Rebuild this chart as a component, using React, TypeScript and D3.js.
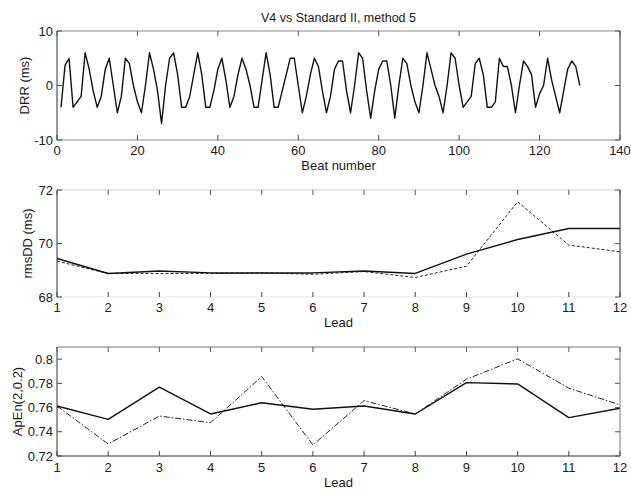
import React from "react";
import * as d3 from "d3";

const titleText = "V4 vs Standard II, method 5";

const beatValues: number[] = [
  -4, 3.7, 5, -4, -3, -2, 6, 3, -1, -4,
  -2, 3, 5, 0, -5, -2, 5, 4, 0, -3,
  -5, 0, 6, 3, -1, -7, 0, 5, 6, 2,
  -4, -4, -2, 2, 6, 2, -4, -4, -1, 3,
  5, 1, -4, -2, 2, 5, 3, 0, -4, -4,
  1, 6, 2, -4, -4, -1, 2, 5, 5, 0,
  -5, -2, 2, 5, 3.5, -1, -5, -2, 3, 4.5,
  4.5, -1, -5, 0, 6, 5, -1, -6, -1, 3,
  4.5, 4.5, 0, -6, 0, 5, 4, 0, -3, -5,
  0, 6, 3, 0, -2, -5, 0, 6, 5, 0,
  -4, -3, -2, 4, 5, 2, -4, -4, -3, 5,
  3.5, 3.5, 0, -5, 0, 4.5, 3.5, 2, -4, -1.5,
  0, 5, 1, -2, -5, -1, 3, 4.5, 3.5, 0,
];
const beatTicks = [0, 20, 40, 60, 80, 100, 120, 140];
const drrTicks = [-10, 0, 10];

const leads = [1, 2, 3, 4, 5, 6, 7, 8, 9, 10, 11, 12];
const rmsSolid = [69.44, 68.88, 68.97, 68.9, 68.9, 68.9, 68.97, 68.88, 69.6, 70.15, 70.56, 70.56];
const rmsDashed = [69.34, 68.88, 68.88, 68.88, 68.9, 68.85, 68.95, 68.73, 69.15, 71.56, 69.94, 69.69];
const rmsTicks = [68, 70, 72];

const apSolid = [0.7613, 0.7503, 0.7768, 0.7547, 0.764, 0.7586, 0.7613, 0.7547, 0.7806, 0.7795, 0.7517, 0.7594];
const apDashDot = [0.7613, 0.7299, 0.753, 0.7475, 0.7856, 0.7291, 0.7657, 0.7547, 0.7834, 0.8002, 0.776, 0.7622];
const apTicks = [0.72, 0.74, 0.76, 0.78, 0.8];

const FONT = "'Liberation Sans', Arial, Helvetica, sans-serif";
const TXT = "#1a1a1a";

type Series = { x: number[]; y: number[]; dash?: string; width: number; color: string };

type PanelProps = {
  top: number;
  bottom: number;
  left: number;
  right: number;
  xDomain: [number, number];
  yDomain: [number, number];
  xTicks: number[];
  yTicks: number[];
  yFormat: (v: number) => string;
  series: Series[];
  xLabel?: string;
  yLabel: string;
  yLabelX: number;
  xLabelY: number;
  xTickY: number;
  borders: { top: string; right: string; bottom: string; left: string };
};

function Panel(p: PanelProps) {
  const x = d3.scaleLinear().domain(p.xDomain).range([p.left, p.right]);
  const y = d3.scaleLinear().domain(p.yDomain).range([p.bottom, p.top]);
  const tl = 5;
  const line = d3
    .line<[number, number]>()
    .x((d) => x(d[0]))
    .y((d) => y(d[1]));
  const cx = (p.left + p.right) / 2;
  const cy = (p.top + p.bottom) / 2;
  return (
    <g>
      <rect x={p.left} y={p.top} width={p.right - p.left} height={p.bottom - p.top} fill="#fff" />
      {p.series.map((s, i) => (
        <path
          key={i}
          d={line(s.x.map((xv, j) => [xv, s.y[j]] as [number, number])) || ""}
          fill="none"
          stroke={s.color}
          strokeWidth={s.width}
          strokeDasharray={s.dash}
          strokeLinejoin="round"
        />
      ))}
      <line x1={p.left} x2={p.right} y1={p.top} y2={p.top} stroke={p.borders.top} />
      <line x1={p.left} x2={p.right} y1={p.bottom} y2={p.bottom} stroke={p.borders.bottom} />
      <line x1={p.left} x2={p.left} y1={p.top} y2={p.bottom} stroke={p.borders.left} />
      <line x1={p.right} x2={p.right} y1={p.top} y2={p.bottom} stroke={p.borders.right} />
      {p.xTicks.map((t) => (
        <g key={"xt" + t}>
          <line x1={x(t)} x2={x(t)} y1={p.bottom} y2={p.bottom - tl} stroke="#444" />
          <line x1={x(t)} x2={x(t)} y1={p.top} y2={p.top + tl} stroke="#555" />
          <text x={x(t)} y={p.xTickY} textAnchor="middle" dominantBaseline="central" fontSize={13} fontFamily={FONT} fill={TXT}>
            {t}
          </text>
        </g>
      ))}
      {p.yTicks.map((t) => (
        <g key={"yt" + t}>
          <line x1={p.left} x2={p.left + tl} y1={y(t)} y2={y(t)} stroke="#444" />
          <line x1={p.right} x2={p.right - tl} y1={y(t)} y2={y(t)} stroke="#555" />
          <text x={p.left - 4} y={y(t)} textAnchor="end" dominantBaseline="central" fontSize={13} fontFamily={FONT} fill={TXT}>
            {p.yFormat(t)}
          </text>
        </g>
      ))}
      {p.xLabel && (
        <text x={cx} y={p.xLabelY} textAnchor="middle" dominantBaseline="central" fontSize={13} fontFamily={FONT} fill={TXT}>
          {p.xLabel}
        </text>
      )}
      <text
        transform={`translate(${p.yLabelX},${cy}) rotate(-90)`}
        textAnchor="middle"
        dominantBaseline="central"
        fontSize={13}
        fontFamily={FONT}
        fill={TXT}
      >
        {p.yLabel}
      </text>
    </g>
  );
}

export default function App() {
  const beats = beatValues.map((_, i) => i + 1);
  const L = 57;
  const R = 620;
  return (
    <svg width={631} height={489} style={{ position: "absolute", left: 0, top: 0, background: "#fff" }}>
      <rect x={0} y={0} width={631} height={489} fill="#fff" />
      <text x={(L + R) / 2} y={18} textAnchor="middle" dominantBaseline="central" fontSize={12.5} fontFamily={FONT} fill={TXT}>
        {titleText}
      </text>
      <Panel
        top={31}
        bottom={140}
        left={L}
        right={R}
        xDomain={[0, 140]}
        yDomain={[-10, 10]}
        xTicks={beatTicks}
        yTicks={drrTicks}
        yFormat={(v) => String(v)}
        series={[{ x: beats, y: beatValues, width: 1.4, color: "#111" }]}
        xLabel="Beat number"
        yLabel="DRR (ms)"
        yLabelX={24}
        xLabelY={165}
        xTickY={150}
        borders={{ top: "#888", right: "#333", bottom: "#888", left: "#333" }}
      />
      <Panel
        top={190}
        bottom={297}
        left={L}
        right={R}
        xDomain={[1, 12]}
        yDomain={[68, 72]}
        xTicks={leads}
        yTicks={rmsTicks}
        yFormat={(v) => String(v)}
        series={[
          { x: leads, y: rmsDashed, width: 1, color: "#222", dash: "3,2" },
          { x: leads, y: rmsSolid, width: 1.4, color: "#111" },
        ]}
        xLabel="Lead"
        yLabel="rmsDD (ms)"
        yLabelX={27}
        xLabelY={322}
        xTickY={307}
        borders={{ top: "#ccc", right: "#222", bottom: "#e6e6e6", left: "#333" }}
      />
      <Panel
        top={347}
        bottom={456}
        left={L}
        right={R}
        xDomain={[1, 12]}
        yDomain={[0.72, 0.81]}
        xTicks={leads}
        yTicks={apTicks}
        yFormat={(v) => (v === 0.8 ? "0.8" : d3.format(".2f")(v))}
        series={[
          { x: leads, y: apDashDot, width: 1, color: "#222", dash: "6,2,1.5,2" },
          { x: leads, y: apSolid, width: 1.4, color: "#111" },
        ]}
        xLabel="Lead"
        yLabel="ApEn(2,0.2)"
        yLabelX={17}
        xLabelY={482}
        xTickY={467}
        borders={{ top: "#777", right: "#777", bottom: "#333", left: "#333" }}
      />
    </svg>
  );
}
